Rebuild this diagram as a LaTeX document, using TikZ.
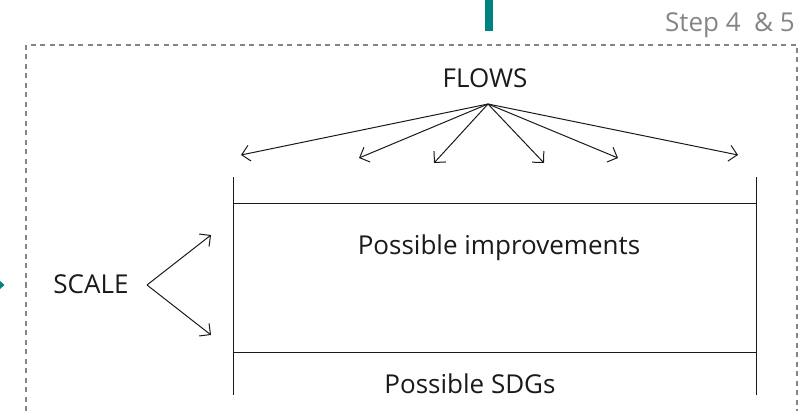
\documentclass[tikz,border=0pt]{standalone}
\usepackage{fontspec}
\setmainfont{Open Sans}
\usetikzlibrary{arrows.meta}
\definecolor{teal1}{HTML}{00827F}
\definecolor{greyline}{HTML}{858585}
\definecolor{txt}{HTML}{1A1A1A}
\tikzset{
  lbl/.style={inner sep=0pt, text=txt, font=\fontsize{26}{30}\selectfont},
  flowarrow/.style={draw=txt, line width=1pt, -{Straight Barb[length=8pt,width=16pt,line width=1pt]}},
  boxline/.style={draw=txt, line width=1pt},
}
\begin{document}
\begin{tikzpicture}[x=1pt,y=-1pt]
\useasboundingbox (0,0) rectangle (810,411);
% teal bar and arrow tip
\fill[teal1] (485,0) rectangle (493,31);
\fill[teal1] (0,281) -- (4.5,285) -- (0,289) -- cycle;
% dashed box
\draw[greyline, line width=1.4pt, dash pattern=on 5pt off 4.5pt] (26,430) -- (26,45) -- (797,45) -- (797,430);
\node[inner sep=0pt, anchor=base east, text=greyline, font=\fontsize{26}{30}\selectfont] (step) at (795,32) {Step 4~~\& 5};
% FLOWS
\node[lbl, anchor=base] (flows) at (485,88) {FLOWS};
\coordinate (fo) at (488,104);
\coordinate (f1) at (241,155);
\coordinate (f2) at (359,158);
\coordinate (f3) at (434,163);
\coordinate (f4) at (544,163);
\coordinate (f5) at (618,158);
\coordinate (f6) at (738,155);
\foreach \t in {f1,f2,f3,f4,f5,f6} \draw[flowarrow] (fo) -- (\t);
% frame
\coordinate (lt) at (233,177);
\coordinate (lb) at (233,395);
\coordinate (rt) at (756,177);
\coordinate (rb) at (756,395);
\draw[boxline] (lt) -- (lb);
\draw[boxline] (rt) -- (rb);
\coordinate (h1l) at (233,204);
\coordinate (h1r) at (756,204);
\coordinate (h2l) at (233,352);
\coordinate (h2r) at (756,352);
\draw[boxline] (h1l) -- (h1r);
\draw[boxline] (h2l) -- (h2r);
\node[lbl, anchor=base] (impr) at (499,255) {Possible improvements};
\node[lbl, anchor=base] (sdg) at (470,393) {Possible SDGs};
% SCALE
\node[lbl, anchor=base] (scale) at (91,293) {SCALE};
\coordinate (so) at (147,285);
\coordinate (s1) at (211,235);
\coordinate (s2) at (211,335);
\draw[flowarrow] (so) -- (s1);
\draw[flowarrow] (so) -- (s2);
\end{tikzpicture}
\end{document}
